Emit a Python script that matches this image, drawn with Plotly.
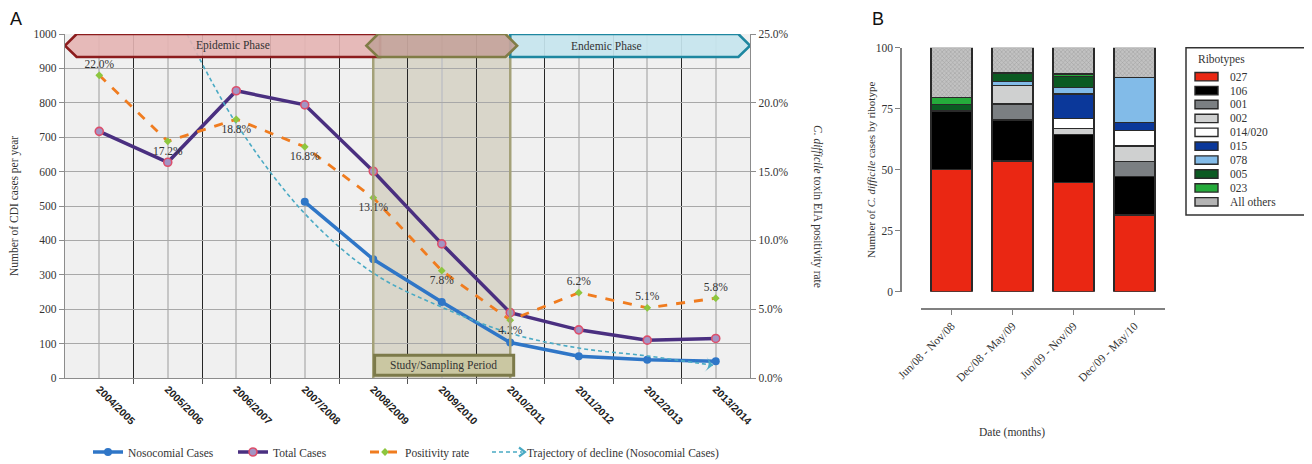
import plotly.graph_objects as go

# ---------------- Panel A data ----------------
seasons = ["2004/2005", "2005/2006", "2006/2007", "2007/2008", "2008/2009",
           "2009/2010", "2010/2011", "2011/2012", "2012/2013", "2013/2014"]
season_idx = list(range(len(seasons)))
total_cases = [717, 627, 835, 794, 601, 390, 190, 140, 110, 115]
nosocomial_idx = [3, 4, 5, 6, 7, 8, 9]
nosocomial_cases = [512, 345, 221, 103, 63, 53, 49]
positivity = [22.0, 17.2, 18.8, 16.8, 13.1, 7.8, 4.2, 6.2, 5.1, 5.8]
pos_label_side = ["top", "bottom", "bottom", "bottom", "bottom",
                  "bottom", "bottom", "top", "top", "top"]
pos_ticks = [0, 5, 10, 15, 20, 25]
traj_x = [1.28, 2, 3, 4, 5, 6, 7, 8, 8.96]
traj_y = [1000, 740, 478, 305, 206, 130, 87, 64, 37]
study_start, study_end = 4, 6          # 2008/2009 .. 2010/2011

# ---------------- Panel B data ----------------
periods = ["Jun/08 - Nov/08", "Dec/08 - May/09", "Jun/09 - Nov/09", "Dec/09 - May/10"]
ribotypes = ["027", "106", "001", "002", "014/020", "015", "078", "005", "023", "All others"]
r027 = [50.2, 53.6, 44.7, 31.4]
r106 = [23.9, 16.8, 19.8, 15.7]
r001 = [0, 6.5, 0, 6.2]
r002 = [0, 7.6, 2.5, 6.4]
r014 = [0, 0, 4.1, 6.3]
r015 = [0, 0, 9.9, 3.3]
r078 = [0, 1.7, 2.6, 18.6]
r005 = [2.7, 3.4, 4.5, 0]
r023 = [2.9, 0, 1.1, 0]
r_other = [20.3, 10.4, 10.8, 12.1]
ribo_values = [r027, r106, r001, r002, r014, r015, r078, r005, r023, r_other]
ribo_colors = ["#ea2713", "#000000", "#7b7f82", "#cfd0d0", "#ffffff",
               "#0b389a", "#82bbe8", "#0b5a22", "#25ab3b", "#b4b4b4"]

SERIF = "Liberation Serif"
TXT = "#333333"
OFF = 8                      # default page body margin
W, H = 1312 - 2 * OFF, 472   # figure bottom runs a little past the window so nothing pushes margins

def px_x(p):                 # screen pixel -> paper fraction
    return (p - OFF) / W

def px_y(p):
    return 1 - (p - OFF) / H

TEAL = "#4aaac4"
fig = go.Figure()

# ---- Panel A traces (each in its own one-entry legend to place entries freely) ----
fig.add_trace(go.Scatter(
    x=nosocomial_idx, y=nosocomial_cases, name="Nosocomial Cases",
    mode="lines+markers", line=dict(color="#2f76c7", width=3.5),
    marker=dict(size=8, color="#2f76c7"), xaxis="x", yaxis="y", legend="legend"))
fig.add_trace(go.Scatter(
    x=season_idx, y=total_cases, name="Total Cases",
    mode="lines+markers", line=dict(color="#4a2f80", width=3.5),
    marker=dict(size=8, color="#a394c4", line=dict(color="#dd4f6b", width=1.6)),
    xaxis="x", yaxis="y", legend="legend2"))
fig.add_trace(go.Scatter(
    x=season_idx, y=positivity, name="Positivity rate",
    mode="lines+markers+text", line=dict(color="#f07c1f", width=2.8, dash="dash"),
    marker=dict(size=6, symbol="diamond", color="#8dc63f"),
    text=[f"{v:.1f}%" for v in positivity],
    textposition=[s + " center" for s in pos_label_side],
    textfont=dict(family=SERIF, size=11.5, color=TXT),
    xaxis="x", yaxis="y3", legend="legend3"))
fig.add_trace(go.Scatter(
    x=traj_x, y=traj_y, name="Trajectory of decline (Nosocomial Cases)",
    mode="lines", line=dict(color=TEAL, width=1.6, dash="4px,3px", shape="spline"),
    xaxis="x", yaxis="y", legend="legend4"))
fig.add_trace(go.Scatter(
    x=[traj_x[-1]], y=[traj_y[-1]], mode="markers", showlegend=False,
    marker=dict(size=11, symbol="arrow-wide", angle=98, color=TEAL),
    xaxis="x", yaxis="y"))

# ---- Panel B traces ----
for name, vals, col in zip(ribotypes, ribo_values, ribo_colors):
    mk = dict(color=col, line=dict(color="#2a2a2a", width=1.4))
    if name == "All others":
        mk["pattern"] = dict(shape="x", size=3, solidity=0.3, fgcolor="#7a7a7a", bgcolor="#c2c2c2")
    fig.add_trace(go.Bar(x=periods, y=vals, name=name, marker=mk, showlegend=False,
                         xaxis="x2", yaxis="y2"))

# ---- shapes ----
shapes = []
# panel A plot background (panel B stays white)
shapes.append(dict(type="rect", xref="paper", yref="paper", x0=px_x(65), x1=px_x(750),
                   y0=px_y(378), y1=px_y(34), fillcolor="#f0f0f0", line=dict(width=0), layer="below"))
shapes.append(dict(type="rect", xref="x", yref="y", x0=study_start, x1=study_end, y0=0, y1=933,
                   fillcolor="rgba(165,155,115,0.30)", line=dict(width=0), layer="below"))
for xv in (study_start, study_end):
    shapes.append(dict(type="line", xref="x", yref="y", x0=xv, x1=xv, y0=0, y1=933,
                       line=dict(color="#a4a179", width=2.5)))
hw = 0.17
shapes.append(dict(type="path", xref="x", yref="y",
                   path=f"M {study_end},1000 L {9.5-hw},1000 L 9.5,966 L {9.5-hw},933 L {study_end},933 Z",
                   fillcolor="rgba(197,229,238,0.92)", line=dict(color="#1e87a0", width=2.6)))
shapes.append(dict(type="path", xref="x", yref="y",
                   path=f"M {study_start+0.1},1000 L {-0.5+hw},1000 L -0.5,966 L {-0.5+hw},933 L {study_start+0.1},933 Z",
                   fillcolor="rgba(228,180,179,0.90)", line=dict(color="#8c1c1d", width=2.6)))
shapes.append(dict(type="path", xref="x", yref="y",
                   path=(f"M {study_start-0.1},966 L {study_start-0.1+hw},1000 L {study_end+0.1-hw},1000 "
                         f"L {study_end+0.1},966 L {study_end+0.1-hw},933 L {study_start-0.1+hw},933 Z"),
                   fillcolor="rgba(196,163,155,0.95)", line=dict(color="#807c46", width=2.6)))
shapes.append(dict(type="rect", xref="x", yref="y", x0=study_start + 0.02, x1=study_end + 0.05,
                   y0=8, y1=66, fillcolor="#cac7a2", line=dict(color="#7c7a4a", width=3)))
# arrow head on the trajectory legend symbol
shapes.append(dict(type="path", xref="paper", yref="paper",
                   path=(f"M {px_x(519)},{px_y(447.5)} L {px_x(525)},{px_y(452)} "
                         f"L {px_x(519)},{px_y(456.5)}"),
                   line=dict(color=TEAL, width=2.2), layer="above"))

def ann(text, x, y, size=11.5, angle=0, xanchor="center", family=SERIF, color=TXT, xref="paper", yref="paper"):
    return dict(text=text, x=x, y=y, xref=xref, yref=yref, showarrow=False, textangle=angle,
                xanchor=xanchor, yanchor="middle", font=dict(family=family, size=size, color=color))

annotations = [
    ann("Epidemic Phase", 1.95, 966, xref="x", yref="y"),
    ann("Endemic Phase", 7.4, 966, xref="x", yref="y"),
    ann("Study/Sampling Period", (study_start + study_end) / 2 + 0.03, 37, xref="x", yref="y"),
    ann("A", px_x(16), px_y(19), size=18, family="Liberation Sans", color="#111"),
    ann("B", px_x(878), px_y(19), size=18, family="Liberation Sans", color="#111"),
    ann("Number of CDI cases per year", px_x(14), px_y(206), angle=-90),
    ann("<i>C. difficile</i> toxin EIA positivity rate", px_x(818), px_y(206), angle=90),
    ann("Number of <i>C. difficile</i> cases by ribotype", px_x(871), px_y(170), size=11, angle=-90),
    ann("Date (months)", px_x(1012), px_y(432)),
]

# ---- manual legend for panel B ----
shapes.append(dict(type="rect", xref="paper", yref="paper", x0=px_x(1186), x1=px_x(1308),
                   y0=px_y(215), y1=px_y(47.7), fillcolor="white", line=dict(color="#333", width=1.5)))
annotations.append(ann("Ribotypes", px_x(1196), px_y(59.5), xanchor="left"))
for i, (name, col) in enumerate(zip(ribotypes, ribo_colors)):
    yc = 76.7 + 13.9 * i
    shapes.append(dict(type="rect", xref="paper", yref="paper", x0=px_x(1195), x1=px_x(1218),
                       y0=px_y(yc + 4.2), y1=px_y(yc - 4.2), fillcolor=col,
                       line=dict(color="#2a2a2a", width=1.4)))
    annotations.append(ann(name, px_x(1228), px_y(yc), xanchor="left"))

def legend_at(xpix):
    return dict(orientation="h", x=px_x(xpix), y=px_y(452), xanchor="left", yanchor="middle",
                bgcolor="rgba(0,0,0,0)", font=dict(family=SERIF, size=11.5, color=TXT))

fig.update_layout(
    width=W, height=H, margin=dict(l=0, r=0, t=0, b=0),
    paper_bgcolor="white", plot_bgcolor="rgba(0,0,0,0)",
    barmode="stack", bargap=0.33,
    font=dict(family=SERIF, size=11.5, color=TXT),
    shapes=shapes, annotations=annotations,
    xaxis=dict(domain=[px_x(65), px_x(750)], range=[-0.5, 9.5], anchor="y",
               tickmode="array", tickvals=season_idx, ticktext=seasons, tickangle=45,
               tickfont=dict(family="Liberation Sans", size=10.5, color="#222", weight="bold"),
               ticks="", showgrid=True, gridcolor="#c6c6c6", gridwidth=1.6,
               showline=True, linecolor="#8c8c8c", linewidth=1.3, zeroline=False,
               minor=dict(tickvals=[i + 0.5 for i in range(len(seasons) - 1)], ticks="outside",
                          ticklen=5, tickcolor="#555", showgrid=True, gridcolor="#262626",
                          gridwidth=1.4),
               automargin=False),
    yaxis=dict(domain=[px_y(378), px_y(34)], range=[0, 1000], dtick=100, anchor="x",
               showgrid=True, gridcolor="#a8a8a8", gridwidth=1.3, zeroline=False,
               showline=True, linecolor="#8c8c8c", linewidth=1.3,
               ticks="outside", ticklen=5, tickcolor="#8c8c8c",
               tickfont=dict(family=SERIF, size=11.5, color=TXT), automargin=False),
    yaxis3=dict(overlaying="y", side="right", anchor="x", range=[0, 25],
                tickmode="array", tickvals=pos_ticks, ticktext=[f"{v:.1f}%" for v in pos_ticks],
                showgrid=False, zeroline=False, showline=True, linecolor="#8c8c8c", linewidth=1.3,
                ticks="outside", ticklen=5, tickcolor="#8c8c8c",
                tickfont=dict(family=SERIF, size=11.5, color=TXT), automargin=False),
    xaxis2=dict(domain=[px_x(921), px_x(1165)], range=[-0.5, 3.5], anchor="free",
                position=px_y(309), showgrid=False, zeroline=False,
                showline=True, linecolor="#808080", linewidth=1.6,
                ticks="outside", ticklen=5, tickcolor="#808080", tickangle=-45,
                tickfont=dict(family=SERIF, size=11.5, color=TXT), automargin=False),
    yaxis2=dict(domain=[px_y(291.7), px_y(47.7)], range=[0, 100], anchor="free",
                position=px_x(901), tickvals=[0, 25, 50, 75, 100], showgrid=False,
                zeroline=False, showline=True, linecolor="#808080", linewidth=1.6,
                ticks="outside", ticklen=5, tickcolor="#808080",
                tickfont=dict(family=SERIF, size=11.5, color=TXT), automargin=False),
    legend=legend_at(88),
    legend2=legend_at(233),
    legend3=legend_at(365),
    legend4=legend_at(487),
    showlegend=True,
)

fig.write_html("out.html")
